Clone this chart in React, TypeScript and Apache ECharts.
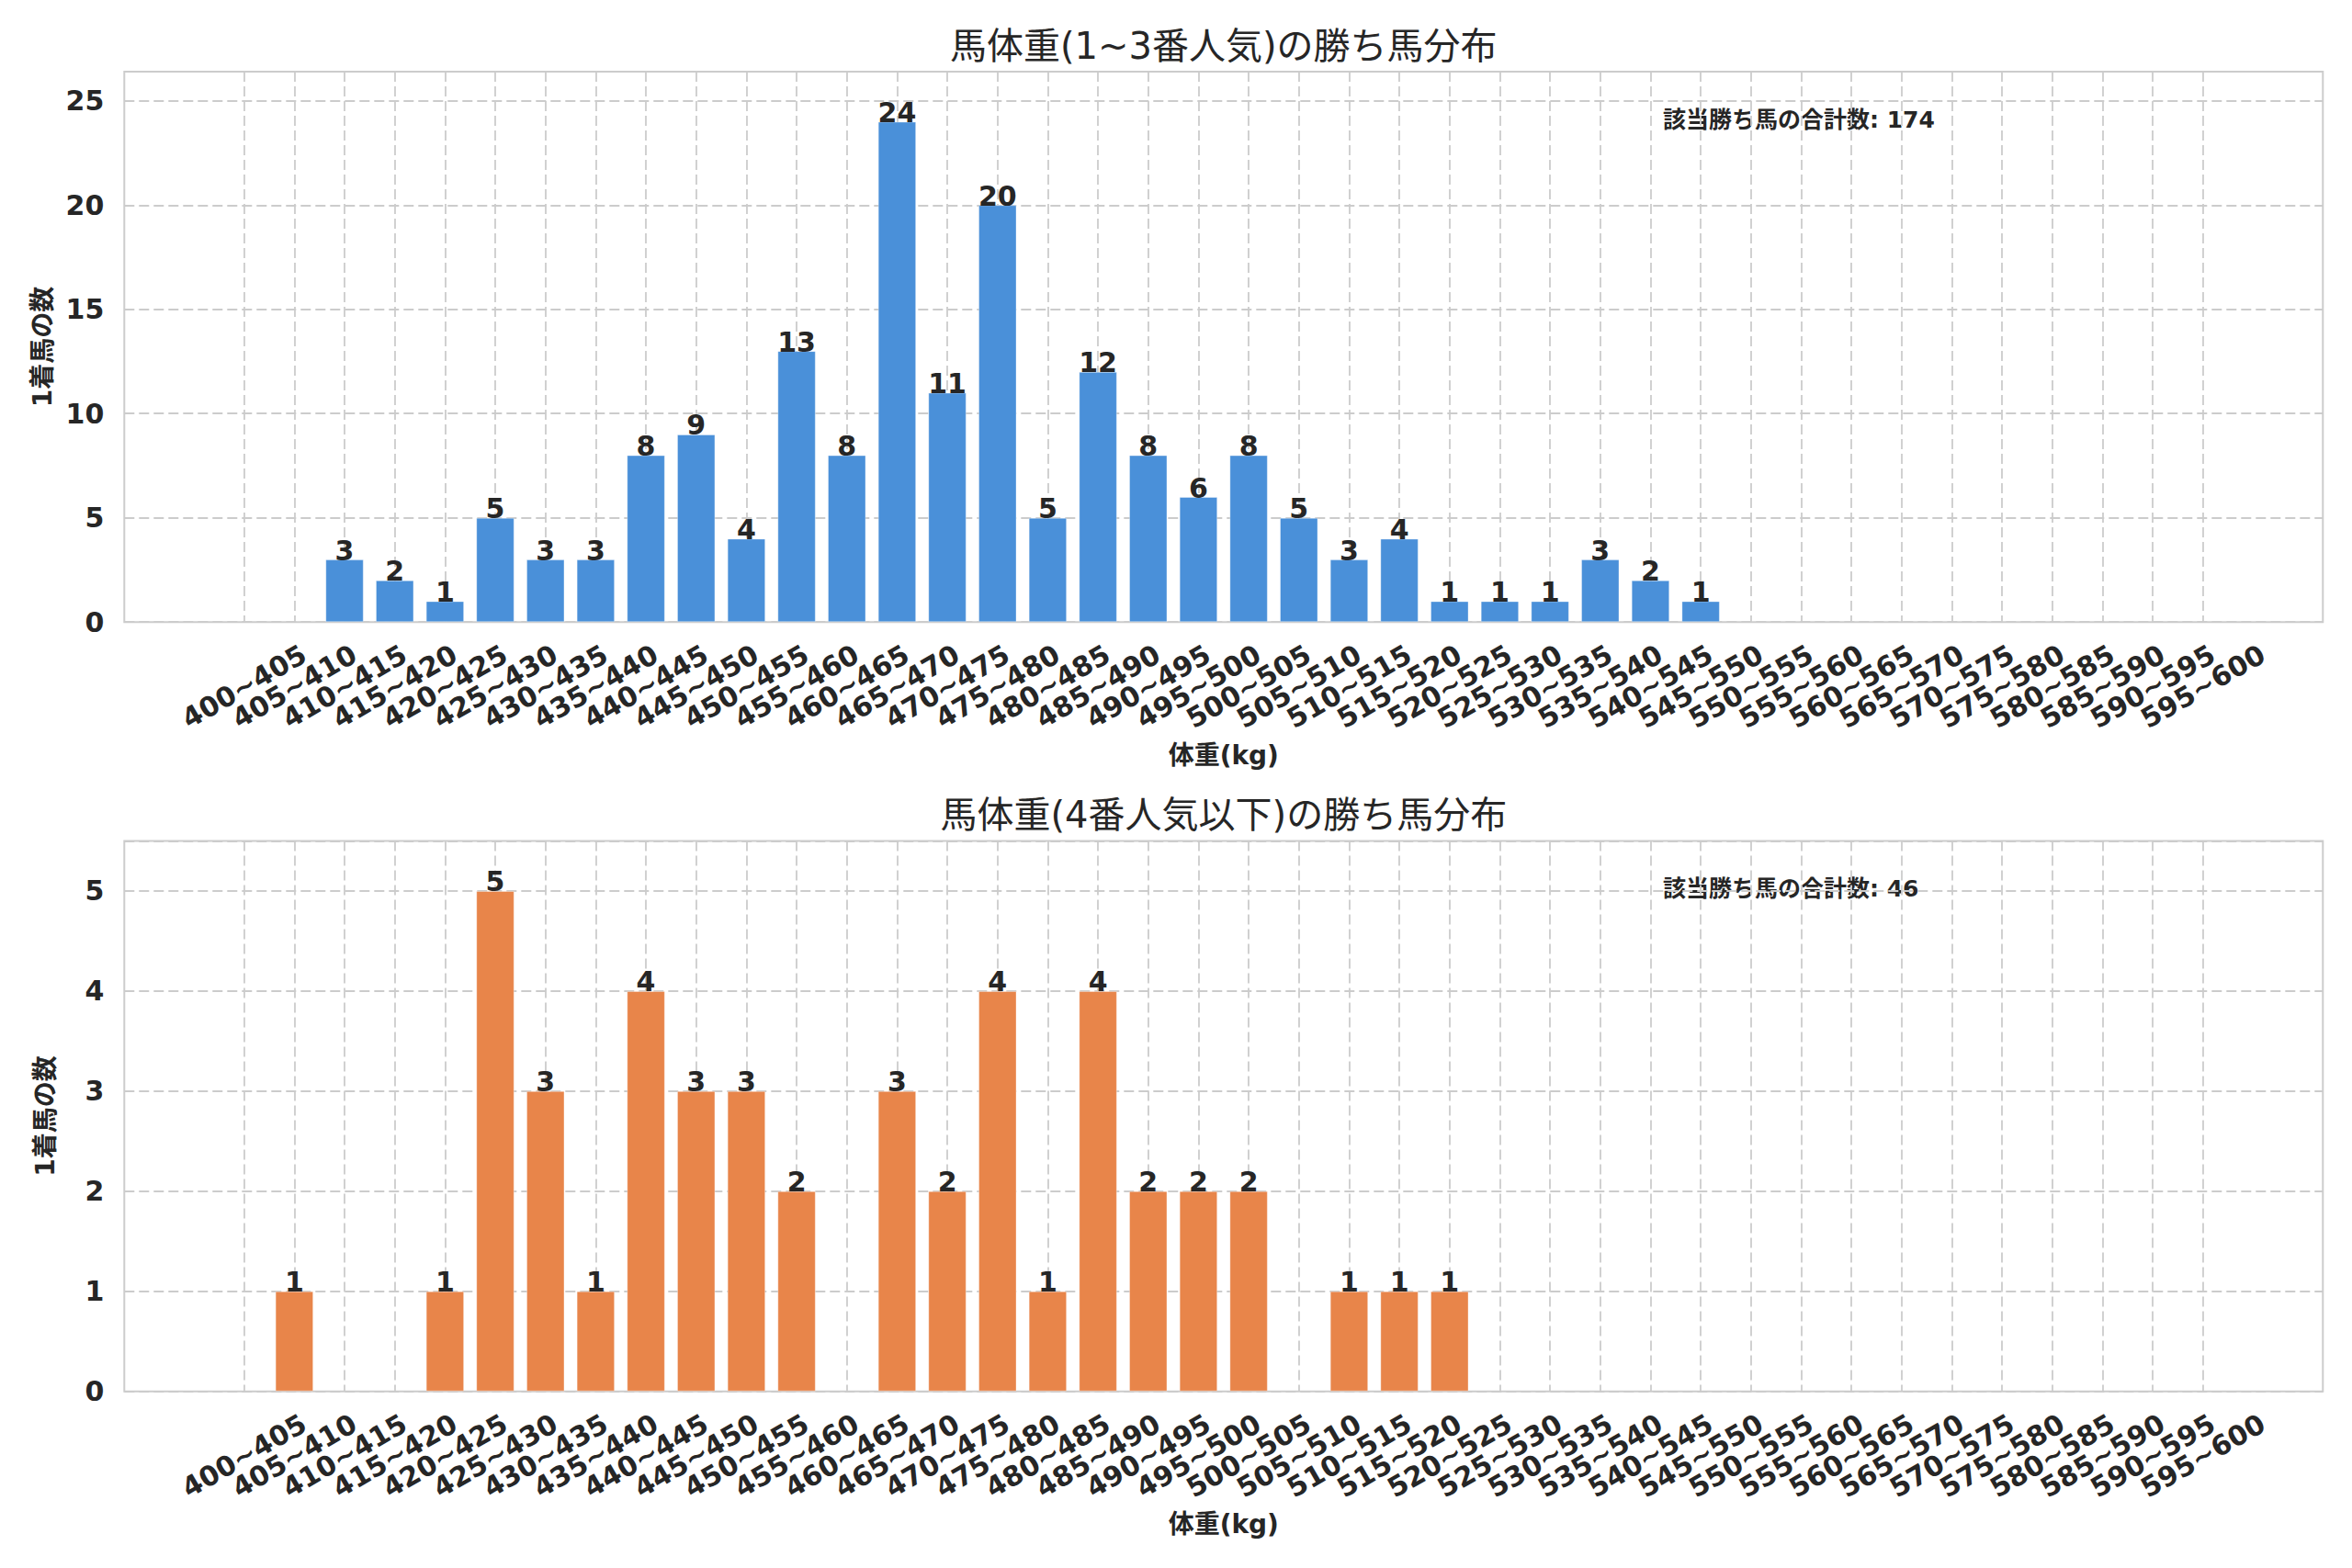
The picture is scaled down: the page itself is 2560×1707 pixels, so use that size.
import React, { useEffect, useRef } from "react";
import * as echarts from "echarts";

// ---- data ----
const weightBins: string[] = [
  "400~405", "405~410", "410~415", "415~420", "420~425", "425~430", "430~435", "435~440",
  "440~445", "445~450", "450~455", "455~460", "460~465", "465~470", "470~475", "475~480",
  "480~485", "485~490", "490~495", "495~500", "500~505", "505~510", "510~515", "515~520",
  "520~525", "525~530", "530~535", "535~540", "540~545", "545~550", "550~555", "555~560",
  "560~565", "565~570", "570~575", "575~580", "580~585", "585~590", "590~595", "595~600",
];

const countsTop: number[] = [
  0, 0, 3, 2, 1, 5, 3, 3,
  8, 9, 4, 13, 8, 24, 11, 20,
  5, 12, 8, 6, 8, 5, 3, 4,
  1, 1, 1, 3, 2, 1, 0, 0,
  0, 0, 0, 0, 0, 0, 0, 0,
];

const countsBottom: number[] = [
  0, 1, 0, 0, 1, 5, 3, 1,
  4, 3, 3, 2, 0, 3, 2, 4,
  1, 4, 2, 2, 2, 0, 1, 1,
  1, 0, 0, 0, 0, 0, 0, 0,
  0, 0, 0, 0, 0, 0, 0, 0,
];

const yIntervals: number[] = [5, 1];
const panelTitles: string[] = ["馬体重(1~3番人気)の勝ち馬分布", "馬体重(4番人気以下)の勝ち馬分布"];
const xAxisTitle = "体重(kg)";
const yAxisTitle = "1着馬の数";
const totalLabel = "該当勝ち馬の合計数";

// ---- style ----
const FONT = "'DejaVu Sans', 'Noto Sans CJK JP', sans-serif";
const TEXT = "#262626";
const GRID = "#cccccc";
const COLORS = ["#4a90d9", "#e8854a"];

const PLOT_LEFT = 135.3;
const PLOT_RIGHT = 2528.3;
const PLOT_TOPS = [78, 915.5];
const PLOT_H = 599.2;
const CAT_FIRST = 265.7;
const CAT_STEP = 54.67;
const TICK_FS = 30;

function buildOption() {
  const grid: any[] = [];
  const xAxis: any[] = [];
  const yAxis: any[] = [];
  const series: any[] = [];
  const graphic: any[] = [];
  const dash = { color: GRID, width: 1.8, type: [11, 5] };
  const plotCenter = (PLOT_LEFT + PLOT_RIGHT) / 2;

  [countsTop, countsBottom].forEach((counts, i) => {
    const top = PLOT_TOPS[i];
    const yMax = Math.max(...counts) * 1.1;
    const total = counts.reduce((a, b) => a + b, 0);
    grid.push({
      left: PLOT_LEFT, top, width: PLOT_RIGHT - PLOT_LEFT, height: PLOT_H,
      show: true, borderColor: GRID, borderWidth: 2, backgroundColor: "#ffffff",
    });
    grid.push({
      left: CAT_FIRST, top, width: CAT_STEP * (weightBins.length - 1), height: PLOT_H,
    });
    xAxis.push({ gridIndex: 2 * i, type: "value", min: 0, max: 1, show: false });
    xAxis.push({
      gridIndex: 2 * i + 1,
      type: "category",
      data: weightBins,
      boundaryGap: false,
      axisLine: { show: false },
      axisTick: { show: false },
      axisLabel: {
        interval: 0, rotate: 30, align: "center", verticalAlign: "middle", margin: 70,
        fontSize: TICK_FS, fontWeight: "bold", color: TEXT, fontFamily: FONT,
      },
      splitLine: { show: true, interval: 0, lineStyle: dash },
      name: xAxisTitle,
      nameLocation: "middle",
      nameGap: 131,
      nameTextStyle: { fontSize: 28, fontWeight: "bold", color: TEXT, fontFamily: FONT },
    });
    yAxis.push({
      gridIndex: 2 * i,
      type: "value",
      min: 0,
      max: yMax,
      interval: yIntervals[i],
      axisLine: { show: false },
      axisTick: { show: false },
      axisLabel: {
        fontSize: TICK_FS, fontWeight: "bold", color: TEXT, margin: 22, showMaxLabel: false, fontFamily: FONT,
      },
      splitLine: { show: true, lineStyle: dash },
      name: yAxisTitle,
      nameLocation: "middle",
      nameRotate: 90,
      nameGap: 72,
      nameTextStyle: { fontSize: 28, fontWeight: "bold", color: TEXT, fontFamily: FONT },
    });
    yAxis.push({ gridIndex: 2 * i + 1, type: "value", min: 0, max: yMax, show: false });
    series.push({
      type: "bar",
      xAxisIndex: 2 * i + 1,
      yAxisIndex: 2 * i + 1,
      data: counts.map((v) => (v > 0 ? v : null)),
      barWidth: 41.5,
      clip: false,
      itemStyle: { color: COLORS[i], borderColor: "rgba(255,255,255,0.35)", borderWidth: 1 },
      label: {
        show: true, position: "top", distance: -5,
        fontSize: TICK_FS, fontWeight: "bold", color: TEXT, fontFamily: FONT,
      },
    });
    graphic.push({
      type: "text",
      x: plotCenter,
      y: top - 28.5,
      style: {
        text: panelTitles[i], fontSize: 40, fontFamily: FONT, fill: TEXT,
        align: "center", verticalAlign: "middle", textAlign: "center", textVerticalAlign: "middle",
      },
    });
    graphic.push({
      type: "text",
      x: 1810,
      y: top + 52,
      style: {
        text: `${totalLabel}: ${total}`, fontSize: 25, fontWeight: "bold", fontFamily: FONT, fill: TEXT,
        align: "left", verticalAlign: "middle", textAlign: "left", textVerticalAlign: "middle",
      },
    });
  });

  return {
    animation: false,
    backgroundColor: "#ffffff",
    textStyle: { fontFamily: FONT },
    grid, xAxis, yAxis, series, graphic,
  };
}

export default function App() {
  const ref = useRef<HTMLDivElement>(null);
  useEffect(() => {
    document.body.style.margin = "0";
    const chart = echarts.init(ref.current as HTMLDivElement, null, { renderer: "svg" });
    chart.setOption(buildOption() as any);
    return () => chart.dispose();
  }, []);
  return <div ref={ref} style={{ width: 2560, height: 1707, background: "#ffffff" }} />;
}
